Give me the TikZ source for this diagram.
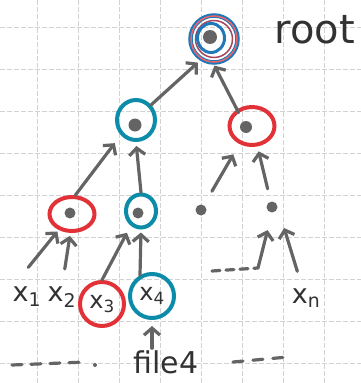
\documentclass[tikz,border=0pt]{standalone}
\usepackage{fontspec}
\setmainfont{DejaVu Sans}
\usetikzlibrary{arrows.meta,shapes.geometric}
\definecolor{myred}{RGB}{226,50,56}
\definecolor{myteal}{RGB}{12,140,168}
\definecolor{myblue}{RGB}{30,120,185}
\definecolor{pen}{RGB}{100,100,100}
\definecolor{ink}{RGB}{50,50,50}
\definecolor{gridc}{RGB}{210,210,210}
\begin{document}
\begin{tikzpicture}[x=1pt,y=-1pt,
  ring/.style={draw, ellipse, line width=4pt, inner sep=0pt},
  redring/.style={ring, draw=myred},
  tealring/.style={ring, draw=myteal},
  hashdot/.style={circle, fill=pen, inner sep=0pt, minimum size=11pt},
  link/.style={draw=pen, line width=3.2pt, line cap=round, line join=round,
    -{Straight Barb[length=7pt,width=16pt]}},
  lbl/.style={text=ink, inner sep=0pt, font=\fontsize{27}{27}\selectfont},
  scribble/.style={draw=pen, line width=3.2pt, line cap=round, dash pattern=on 10pt off 9pt},
  gridline/.style={gridc, line width=0.6pt, dash pattern=on 5pt off 2pt}]
\fill[white] (0,0) rectangle (361,383);
\useasboundingbox (0,0) rectangle (361,383);
% grid paper
\foreach \x in {37,78,...,330} \draw[gridline] (\x,0) -- (\x,383);
\foreach \y in {27,69,...,370} \draw[gridline] (0,\y) -- (361,\y);
% root
\node[ring, draw=myblue, line width=4.5pt, minimum width=47pt, minimum height=47pt] (root) at (214,39) {};
\node[ring, draw=myred!75, line width=1.5pt, minimum size=46pt] (rootout) at (root.center) {};
\node[ring, draw=myred!70!myblue, line width=1.5pt, minimum size=37pt] (rootmid) at (root.center) {};
\node[ring, draw=myblue, line width=3pt, minimum width=27pt, minimum height=29pt] (rootcore) at (211,38) {};
\node[hashdot, minimum size=14pt] (rootdot) at (210,37) {};
\node[lbl, font=\fontsize{40}{40}\selectfont] (rootlbl) at (315,30) {root};
% level 1
\node[tealring, minimum width=38pt, minimum height=40pt] (a) at (136,120) {};
\node[hashdot, minimum size=13pt] (adot) at (135,125) {};
\node[redring, minimum width=45pt, minimum height=38pt] (b) at (252,126) {};
\node[hashdot, minimum size=12pt] (bdot) at (246,127) {};
% level 2
\node[redring, minimum width=45pt, minimum height=34pt] (c) at (72,214) {};
\node[hashdot] (cdot) at (70,213) {};
\node[tealring, minimum width=30pt, minimum height=33pt] (d) at (141,211) {};
\node[hashdot] (ddot) at (138,213) {};
\node[hashdot] (e) at (201,210) {};
\node[hashdot] (f) at (272,207) {};
% leaves
\node[lbl] (x1) at (27,297) {x\textsubscript{1}};
\node[lbl] (x2) at (62,297) {x\textsubscript{2}};
\node[redring, circle, minimum size=44pt, font=\fontsize{24}{24}\selectfont, text=ink] (x3) at (102,304) {x\textsubscript{3}};
\node[tealring, circle, minimum size=44pt, font=\fontsize{24}{24}\selectfont, text=ink] (x4) at (152,296) {x\textsubscript{4}};
\node[lbl] (xn) at (306,298) {x\textsubscript{n}};
\node[lbl, font=\fontsize{30}{30}\selectfont] (file) at (166,362) {file4};
% arrows
\draw[link, shorten >=3pt] (a.45) -- (root.237);
\draw[link, shorten <=10pt, shorten >=1pt] (bdot) -- (root.south);
\draw[link, shorten >=10pt] (c.80) -- (a.225);
\draw[link, shorten >=4pt] (d.north) -- (a.south);
\draw[link, shorten <=16pt, shorten >=12pt] (e) -- (b.235);
\draw[link, shorten <=13pt, shorten >=5pt] (f) -- (b.285);
\draw[link, shorten <=25pt, shorten >=2pt] (x1.north west) -- (c.230);
\draw[link, shorten <=18pt, shorten >=3pt] (x2.north) -- (c.265);
\draw[link, shorten >=8pt] (x3.north) -- (d.235);
\draw[link, shorten >=3pt] (x4.120) -- (d.south);
\draw[link, shorten <=2pt, shorten >=6pt] (x4.south |- file.north) -- (x4.south);
\coordinate (dd0) at (212,271);
\coordinate (dd1) at (258,268);
\draw[scribble, dash pattern=on 8pt off 6pt] (dd0) -- (dd1);
\draw[link, shorten >=18pt] (dd1) -- (f.south);
\draw[link, shorten <=18pt, shorten >=22pt] (xn.110) -- (f.east);
% ellipsis dashes
\draw[scribble, dash pattern=on 10pt off 9pt] (12,365) -- (86,362);
\fill[pen] (95,365) circle (2pt);
\draw[scribble, dash pattern=on 10pt off 10pt] (233,362) -- (288,357);
\end{tikzpicture}
\end{document}
